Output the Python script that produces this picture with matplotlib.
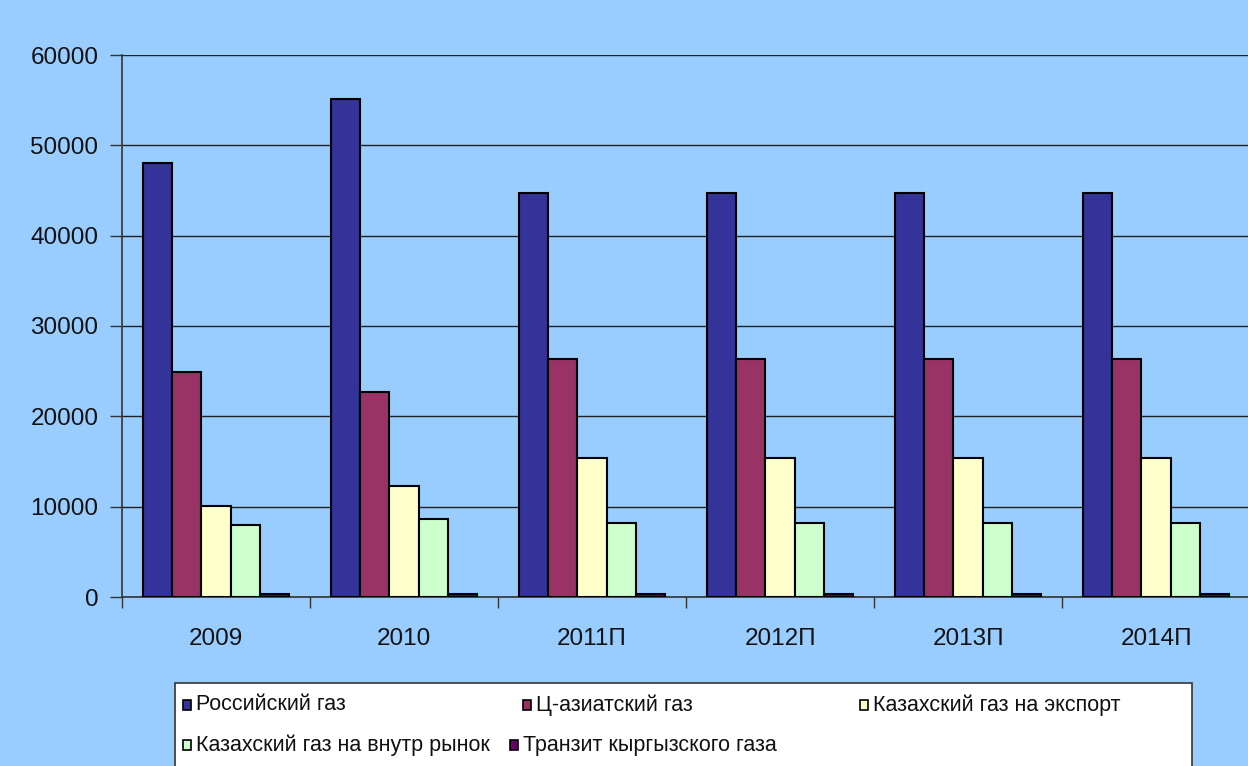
import numpy as np
import matplotlib
matplotlib.use("Agg")
import matplotlib.pyplot as plt
from matplotlib.patches import Rectangle

plt.rcParams['font.family'] = ['Liberation Sans', 'DejaVu Sans']

# data
years = ["2009", "2010", "2011П", "2012П", "2013П", "2014П"]
series_names = ["Российский газ", "Ц-азиатский газ", "Казахский газ на экспорт",
                "Казахский газ на внутр рынок", "Транзит кыргызского газа"]
russian = [48000, 55100, 44700, 44700, 44700, 44700]
central_asian = [24900, 22700, 26400, 26400, 26400, 26400]
kaz_export = [10100, 12300, 15400, 15400, 15400, 15400]
kaz_domestic = [8000, 8600, 8200, 8200, 8200, 8200]
kyrgyz_transit = [300, 300, 300, 300, 300, 300]

colors = ["#333399", "#993366", "#FFFFCC", "#CCFFCC", "#660066"]
bg = "#99CCFF"

W, H = 1248, 766
fig = plt.figure(figsize=(W / 100, H / 100), dpi=100, facecolor=bg)
ax = fig.add_axes([122 / W, 1 - 597 / H, 1128 / W, (597 - 55) / H])
ax.set_facecolor(bg)

all_series = [russian, central_asian, kaz_export, kaz_domestic, kyrgyz_transit]
x = np.arange(len(years))
bw = 0.155
for i, vals in enumerate(all_series):
    offs = (i - 2) * bw
    ax.bar(x + offs, vals, width=bw, color=colors[i], edgecolor="black",
           linewidth=1.5, zorder=3)

ax.set_xlim(-0.5, len(years) - 0.5)
ax.set_ylim(0, 60000)
ax.set_yticks(np.arange(0, 60001, 10000))
ax.yaxis.grid(True, color="#222222", linewidth=1.0, zorder=0)

# x ticks at category boundaries, labels centred
ax.set_xticks(np.arange(-0.5, len(years) + 0.5, 1.0))
ax.set_xticklabels([])
ax.set_xticks(x, minor=True)
ax.set_xticklabels(years, minor=True)
ax.tick_params(axis="x", which="major", direction="out", length=8, width=1, color="#333333")
ax.tick_params(axis="x", which="minor", length=0, pad=22, labelsize=17.5, labelcolor="#111111")
ax.tick_params(axis="y", direction="out", length=9, width=1, color="#333333", pad=8,
               labelsize=17.5, labelcolor="#111111")

for s in ["top", "right"]:
    ax.spines[s].set_visible(False)
for s in ["left", "bottom"]:
    ax.spines[s].set_color("#333333")
    ax.spines[s].set_linewidth(1.2)

# legend box drawn by hand to mimic the original layout
fig.add_artist(Rectangle((175 / W, -0.01), (1192 - 175) / W, (H - 683) / H + 0.01,
                         transform=fig.transFigure, facecolor="white",
                         edgecolor="#333333", linewidth=1.2))
entries = [(183, 705), (523, 705), (860, 705), (183, 745), (510, 745)]
for (px, py), name, c in zip(entries, series_names, colors):
    fig.add_artist(Rectangle((px / W, 1 - (py + 5) / H), 8 / W, 10 / H,
                             transform=fig.transFigure, facecolor=c,
                             edgecolor="black", linewidth=1.2))
    fig.text((px + 13) / W, 1 - py / H, name, fontsize=15.5, va="center", ha="left",
             color="#111111")

fig.savefig("out.png", dpi=100, facecolor=bg)
